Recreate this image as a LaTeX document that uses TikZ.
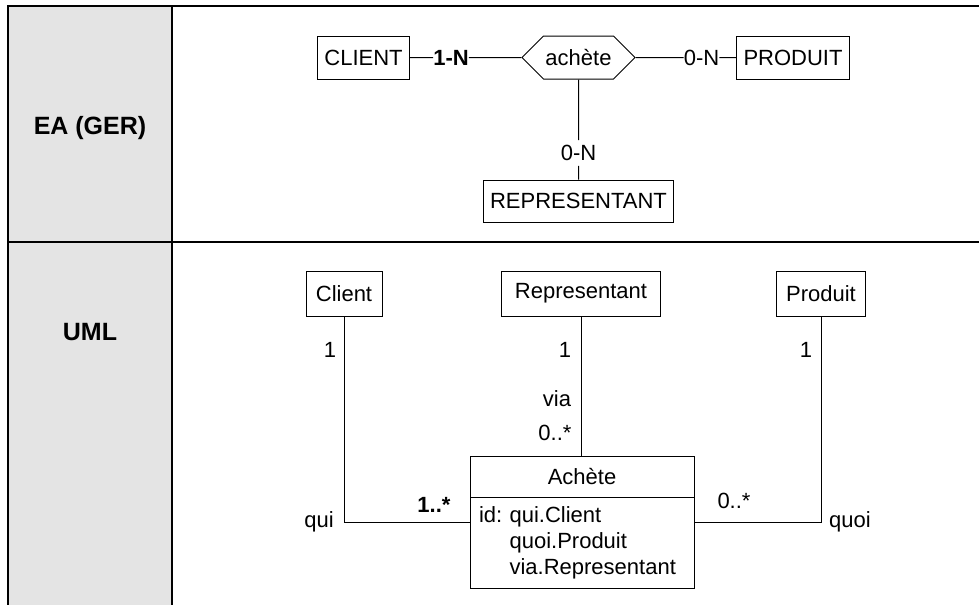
\documentclass[tikz,border=0pt]{standalone}
\usepackage{fontspec}
\setmainfont{Liberation Sans}
\usepackage{xcolor}
\usepackage{tikz}
\usetikzlibrary{positioning,shapes.symbols,shapes.multipart}
\definecolor{headgray}{HTML}{E4E4E4}
\newcommand{\diagfont}{\fontsize{22}{26}\selectfont}
\newcommand{\headfont}{\fontsize{25}{30}\selectfont\bfseries}

\begin{document}
\begin{tikzpicture}[x=1pt,y=-1pt,
                    every node/.style={font=\diagfont},
                    box/.style={draw,line width=1pt,minimum height=43pt,inner xsep=7pt},
                    umlbox/.style={box,minimum height=45pt,inner xsep=0pt},
                    card/.style={inner sep=0pt},
                    cardb/.style={card,font=\diagfont\bfseries},
                    rule/.style={line width=2pt},
                    link/.style={line width=1pt}]
\useasboundingbox (0,0) rectangle (979,605);
% table frame
\fill[headgray] (8,6) rectangle (172,605);
\draw[rule] (979,6) -- (8,6) -- (8,605);
\draw[rule] (172,6) -- (172,605);
\draw[rule] (8,242) -- (979,242);
\node[font=\headfont] (ea)  at (90,128) {EA (GER)};
\node[font=\headfont] (uml) at (90,332) {UML};

% EA schema
\node[box] (client)  at (363.5,57.5) {CLIENT};
\node[draw,line width=1pt,signal,signal to=west and east,signal pointer angle=90,
      minimum width=113pt,minimum height=43pt,inner sep=0pt] (achete) at (578.5,57.5) {achète};
\node[box] (produit) at (793,57.5) {PRODUIT};
\node[box,minimum height=42pt] (repr) at (578.5,201) {REPRESENTANT};
\node[cardb] (c1) at (451,57.5) {1-N};
\node[card]  (c2) at (701.5,57.5) {0-N};
\node[card,inner ysep=5pt] (c3) at (578.5,153) {0-N};
\draw[link] (client) -- (c1) -- (achete) -- (c2) -- (produit);
\draw[link] (achete) -- (c3) -- (repr);

% UML schema
\node[umlbox,minimum width=76pt]  (uclient) at (344,293.5)   {Client};
\node[umlbox,minimum width=159pt] (urep)    at (581,293.5)   {Representant};
\node[umlbox,minimum width=89pt]  (uprod)   at (821,293.5)   {Produit};
\node[draw,line width=1pt,rectangle split,rectangle split parts=2,
      text width=206pt,inner xsep=9pt,inner ysep=8.75pt] (uach) at (582,522)
  {\centerline{\rule[-3.35pt]{0pt}{22.5pt}Achète}
   \nodepart{second}id:~qui.Client\\
   \phantom{id:~}quoi.Produit\\
   \phantom{id:~}via.Representant};
\draw[link] (uclient) |- (uach);
\draw[link] (uprod) |- (uach);
\draw[link] (urep.south) -- (urep.south |- uach.north);
\coordinate (quicorner)  at (uclient |- uach);
\coordinate (quoicorner) at (uprod |- uach);
\node[card,left=10pt of quicorner]  (qui)  {qui};
\node[card,right=8pt of quoicorner] (quoi) {quoi};
\node[card]  (m1) at (330,350) {1};
\node[cardb] (m2) at (434,505) {1..*};
\node[card]  (m3) at (565,350) {1};
\node[card]  (m4) at (557,399) {via};
\node[card]  (m5) at (555,433) {0..*};
\node[card]  (m6) at (806,350) {1};
\node[card]  (m7) at (734,501) {0..*};
\end{tikzpicture}
\end{document}
